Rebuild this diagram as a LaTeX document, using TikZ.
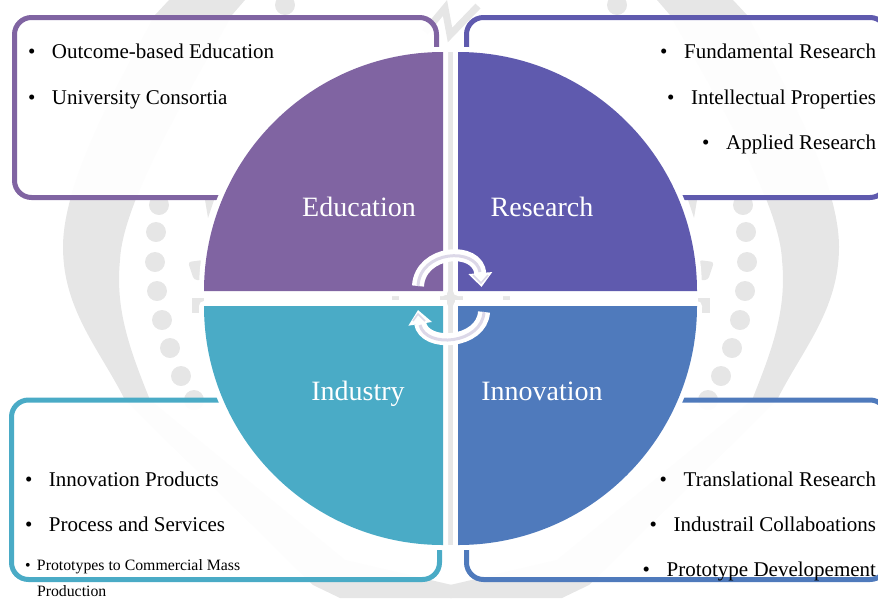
\documentclass[tikz,border=0pt]{standalone}
\usepackage{fontspec}
\setmainfont{Liberation Serif}
\usetikzlibrary{arrows.meta,positioning}

\definecolor{edupurple}{HTML}{8064A2}
\definecolor{resviolet}{HTML}{5F5AAE}
\definecolor{indcyan}{HTML}{4AABC6}
\definecolor{innblue}{HTML}{4F7ABC}
\definecolor{sealgrey}{HTML}{E6E6E6}
\definecolor{cyclecore}{HTML}{DCD8E8}

\tikzset{
  infobox/.style={rectangle,rounded corners=17pt,line width=5pt,draw=#1,
    fill=white,fill opacity=.93,draw opacity=1,inner sep=0pt},
  quadrant/.style={fill=#1,preaction={draw=white,line width=10pt,line join=round}},
  quadlabel/.style={text=white,font=\fontsize{28}{32}\selectfont,inner sep=0pt,anchor=base},
  item/.style={inner sep=0pt,outer sep=0pt,font=\fontsize{21}{25}\selectfont},
  smallitem/.style={inner sep=0pt,outer sep=0pt,font=\fontsize{15.8}{19}\selectfont},
  cycleback/.style={draw=white,line width=12pt},
  cyclecoreline/.style={draw=cyclecore,line width=3pt},
}
\newcommand{\pt}[1]{\makebox[24pt][l]{\textbullet}#1}
% one half of the watermark
\newcommand{\sealside}{
  \fill[sealgrey] (155,15) .. controls (120,80) and (63,180) .. (63,247)
    .. controls (63,310) and (100,350) .. (125,400) -- (313,585) -- (340,598)
    -- (452,598) -- (452,585) -- (345,560) -- (150,400)
    .. controls (130,350) and (115,310) .. (120,260)
    .. controls (123,200) and (190,90) .. (232,15) -- (245,0) -- (169,0) -- cycle;
  \foreach \px/\py in {159/205,156/232,155/262,157/291,162/320,170/348,181/376,194/400,285/5}
    \fill[sealgrey] (\px,\py) circle (10);
  \fill[sealgrey,rounded corners=3pt] (188,262) -- (203,260) -- (203,280) -- (194,280) -- cycle;
  \fill[sealgrey] (192,298) rectangle (204,313);
  \fill[sealgrey] (205,200) -- (214,200) -- (208,218) -- cycle;
  \fill[sealgrey] (392,296) rectangle (399,300);
}

\begin{document}
\begin{tikzpicture}[x=1pt,y=-1pt]
  \useasboundingbox (0,0) rectangle (878,598);
  \clip (0,0) rectangle (878,598);

  % watermark
  \sealside
  \begin{scope}[xshift=902pt,xscale=-1]
    \sealside
  \end{scope}
  \fill[sealgrey] (447,52) rectangle (455,545);
  \fill[sealgrey] (440,295) rectangle (463,300);
  \draw[sealgrey,line width=7pt] (425,32) -- (445,8) -- (450,35) -- (478,6);

  % boxes
  \node[infobox=edupurple,minimum width=422pt,minimum height=180pt] (eduBox) at (225.5,107.5) {};
  \node[infobox=resviolet,minimum width=420.5pt,minimum height=180pt] (resBox) at (676.75,107.5) {};
  \node[infobox=indcyan,minimum width=428pt,minimum height=179.5pt] (indBox) at (225.5,489.75) {};
  \node[infobox=innblue,minimum width=420.5pt,minimum height=179.5pt] (innBox) at (676.75,489.75) {};

  % the four quarters
  \path[quadrant=edupurple] (443,291) -- (204,291) .. controls (204,159) and (311,52) .. (443,52) -- cycle;
  \path[quadrant=resviolet] (458,291) -- (697,291) .. controls (697,159) and (590,52) .. (458,52) -- cycle;
  \path[quadrant=indcyan] (443,306) -- (204,306) .. controls (204,438) and (311,545) .. (443,545) -- cycle;
  \path[quadrant=innblue] (458,306) -- (697,306) .. controls (697,438) and (590,545) .. (458,545) -- cycle;
  \fill[sealgrey] (447,296) rectangle (455,300);

  \node[quadlabel] (edu) at (359,216) {Education};
  \node[quadlabel] (res) at (542,216) {Research};
  \node[quadlabel] (ind) at (358,400) {Industry};
  \node[quadlabel] (inn) at (542,400) {Innovation};

  % cycle arrows
  \coordinate (cycleA) at (418,286);
  \coordinate (cycleB) at (481.5,287);
  \coordinate (cycleC) at (484,312);
  \coordinate (cycleD) at (418,310);
  \draw[cycleback,-{Triangle[length=14pt,width=23pt]}] (cycleA) .. controls (420,250) and (478,245) .. (cycleB);
  \draw[cycleback,-{Triangle[length=14pt,width=23pt]}] (cycleC) .. controls (482,344) and (424,348) .. (cycleD);
  \draw[cyclecoreline] (cycleA) .. controls (420,250) and (476,247) .. (480,272);
  \draw[cyclecoreline] (cycleC) .. controls (482,344) and (426,349) .. (420,325);
  \draw[cyclecore,line width=1.5pt] (473,275) -- (481,283) -- (488,275);
  \draw[cyclecore,line width=1.5pt] (413,321) -- (418,314) -- (425,321);

  % lists
  \node[item,anchor=base west] (edu1) at (28,58) {\pt{Outcome-based Education}};
  \node[item,below=46pt of edu1.base west,anchor=base west] (edu2) {\pt{University Consortia}};

  \node[item,anchor=base east] (res1) at (876,58) {\pt{Fundamental Research}};
  \node[item,below=46pt of res1.base east,anchor=base east] (res2) {\pt{Intellectual Properties}};
  \node[item,below=45pt of res2.base east,anchor=base east] (res3) {\pt{Applied Research}};

  \node[item,anchor=base west] (ind1) at (25,486) {\pt{Innovation Products}};
  \node[item,below=45pt of ind1.base west,anchor=base west] (ind2) {\pt{Process and Services}};
  \node[smallitem,anchor=base west] (ind3) at (25,570) {\makebox[12pt][l]{\textbullet}Prototypes to Commercial Mass};
  \node[smallitem,anchor=base west] (ind4) at (37,596) {Production};

  \node[item,anchor=base east] (inn1) at (876,486) {\pt{Translational Research}};
  \node[item,below=45pt of inn1.base east,anchor=base east] (inn2) {\pt{Industrail Collaboations}};
  \node[item,below=45pt of inn2.base east,anchor=base east] (inn3) {\pt{Prototype Developement}};
\end{tikzpicture}
\end{document}
